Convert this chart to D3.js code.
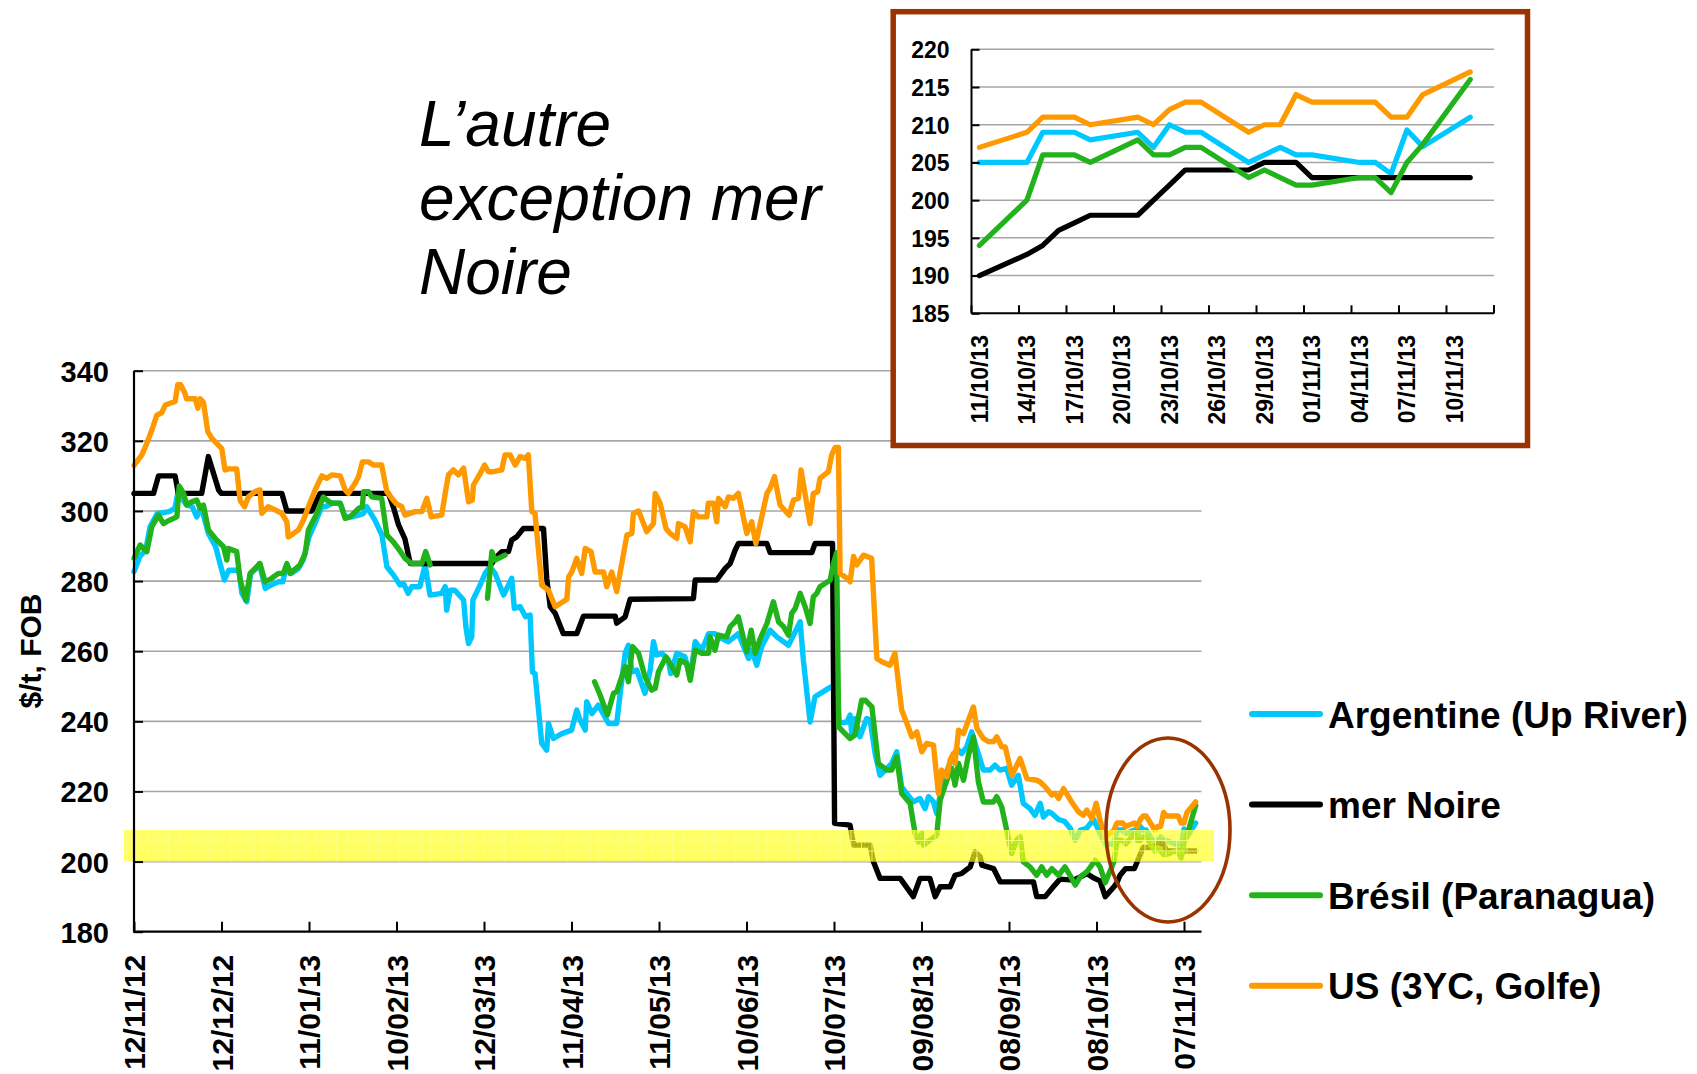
<!DOCTYPE html>
<html><head><meta charset="utf-8">
<script src="https://cdn.jsdelivr.net/npm/d3@7"></script>
<style>
body{margin:0;background:#fff}
svg{display:block}
text{font-family:"Liberation Sans",Arial,Helvetica,sans-serif}
</style>
</head><body>
<svg id="chart" width="1697" height="1074"></svg>
<script>
// ---------------- DATA ----------------
const startDate = "12/11/12";   // day 0 of the main chart
const endDate = "13/11/13";
const mainTickLabels = ["12/11/12","12/12/12","11/01/13","10/02/13","12/03/13","11/04/13","11/05/13","10/06/13","10/07/13","09/08/13","08/09/13","08/10/13","07/11/13"];
const mainYTicks = [180,200,220,240,260,280,300,320,340];
const seriesNames = ["Argentine (Up River)","mer Noire","Brésil (Paranagua)","US (3YC, Golfe)"];
const seriesColors = ["#00c8ff","#000000","#22b21c","#ff9900"];
const bandRange = [200, 209];

// [days since startDate, $/t]
const argentine = [[0,282.7],[2,287],[4,288.8],[5.5,295.5],[8,299.3],[10,299.5],[12,299.8],[14,300.7],[15,305],[18,301.7],[20,301.2],[21.5,298.3],[23,301.2],[25.5,293.6],[28,289.8],[29.5,285],[31,280.3],[32.5,283.1],[35,283.1],[36,282.7],[37,276.5],[38.7,274.1],[40,282.2],[42,283.6],[43,285],[45,277.9],[47,278.9],[49.5,279.8],[51,279.8],[52.4,284.6],[54,282.2],[56.4,283.6],[58,286],[60,292.6],[62,296.4],[64.4,301.2],[65.5,301.2],[68,302.2],[70.7,302.2],[72.4,298.3],[74.7,298.3],[77,298.8],[78.7,299.3],[79.8,301.2],[82.6,297.4],[85,293.1],[86.7,284.1],[89,281.7],[91.2,278.9],[92.4,279.3],[94,276.5],[95.2,278.4],[98,278.4],[99.8,284.6],[101.5,276],[105.5,276.5],[106.7,278.4],[107.2,271.7],[108.4,277.4],[110,277.4],[113,274.6],[113.8,266.9],[114.7,262.2],[115.8,264.1],[116.2,274.6],[118.7,278.9],[120.4,282.2],[122,284.1],[123.8,282.2],[126.7,276],[129.5,280.8],[130.4,272.2],[132.4,272.7],[134.3,269.8],[135.8,270.3],[136.6,254.1],[137.5,253.6],[139.8,233.7],[141.5,231.8],[142.1,239.4],[143.8,235.1],[146.7,236.5],[150,237.5],[151.8,243.2],[153,240.3],[154.7,237.5],[155.2,245.6],[157,242.2],[159.2,244.6],[162.7,239.4],[165.5,239.4],[166.7,248],[168.4,259.4],[169.5,261.7],[170.7,254.1],[172.4,254.6],[175.2,248],[177,254.6],[178.1,262.7],[179.2,258.9],[181,259.4],[183.2,257.5],[184,253.6],[186.1,259.4],[188.9,258.4],[190.7,252.2],[192.4,262.7],[194.7,260.3],[197,265],[199.2,265],[200.4,264.1],[203.8,262.7],[207.2,265],[210.7,257.9],[211.8,260.3],[213.5,256],[215.2,261.3],[218.1,266],[220.4,264.1],[224.4,261.7],[228.4,268.4],[229.5,257.4],[231.8,239.8],[233.5,247],[238.1,249.4],[239.2,249.9],[241,250.3],[241.8,239.5],[244.4,239.8],[245.5,241.8],[246.1,236.5],[247.2,240.8],[248.9,235.6],[251.2,240.8],[252.4,240.3],[254.1,230.8],[255.8,224.6],[258.1,226.6],[259.8,228],[261.5,231.3],[263.2,221.3],[264.9,219.4],[267.2,217],[269.5,218],[271.2,215.1],[272.4,218.5],[274.1,217],[275.2,213.7],[276.9,221.3],[279.2,227],[280.9,229.9],[282.1,232.3],[283.8,230.8],[285.5,232.7],[287.2,237],[288.9,232.3],[291.2,226.1],[293.5,226.1],[295.2,227.5],[296.9,226.1],[299.2,226.6],[300.9,221.8],[303.2,224.6],[304.9,216.6],[307.2,215.1],[308.9,213.2],[310.7,216.6],[311.8,212.7],[313.5,214.2],[314.7,213.7],[317,212],[319,211.5],[321,209.5],[322.7,206.1],[324.5,209],[326.6,209.5],[329,212],[331,208.5],[333,205],[336,205],[337,209],[338,209],[339,209],[340,208],[343,209],[344,207],[345,210],[346,209],[347,209],[350,205],[351,206],[352,207],[353,206],[354,206],[357,205],[358,205],[359,203.5],[360,209.3],[361,207.1],[364,211]];

const merNoire = [[0,305],[6.7,305],[8.4,310],[14.1,310],[15.2,305],[23.2,305],[25.5,315.5],[29,306],[30,305],[50.7,305],[52.4,300],[61,300],[63.8,305],[87.2,305],[88.9,301.2],[90.7,296],[92.9,292],[94.7,285],[122.7,285],[123.8,286.5],[126.1,288.4],[128.4,288.4],[129.5,291.7],[131.2,292.6],[133.5,295],[140.4,295],[141.5,280.8],[142.7,272.7],[144.4,270.8],[147.2,265],[151.8,265],[154.1,270],[165,270],[165.5,268],[168.4,269.8],[170.1,274.8],[191.8,275],[192.4,280.3],[199.8,280.3],[202.7,283.6],[204.4,285],[206.1,288.8],[207.2,290.7],[217,290.7],[218.1,288.1],[232.4,288.1],[233.5,290.7],[239.5,290.7],[240.2,210.9],[245.5,210.4],[246.7,204.7],[252.4,204.7],[253.5,200],[255.8,195.2],[262.7,195.2],[267.2,190],[269.5,195.2],[272.9,195.2],[274.7,190],[276.4,192.8],[279.8,192.8],[281.5,196.1],[283.8,196.6],[286.7,198.5],[288.4,202.8],[290.1,201.4],[290.7,199],[294.7,198],[297,194.2],[308.4,194.2],[309.5,190],[312.4,190],[315.2,192.8],[317.5,195],[322.1,194.7],[324.4,195.6],[326.7,196.6],[328.9,195.4],[331.2,194.5],[333,190],[336,192.8],[337,194],[338,196],[339,197],[340,198],[343,198],[344,200],[345,202],[346,204],[347,204],[350,204],[351,205],[352,205],[353,205],[354,203],[357,203],[358,203],[359,203],[360,203],[361,203],[364,203]];

const bresil = [[0,286.5],[2.1,290.3],[4.4,288.4],[6.1,295.5],[8.4,298.8],[10.1,296.4],[11.8,297.2],[14.7,298.3],[15.5,307.1],[17,305],[18.1,301.7],[19.8,302.6],[21.5,303.1],[22.7,300.7],[23.8,301.7],[25.5,294.6],[27.8,292.2],[30.7,289.8],[31.8,286],[32.4,289.3],[35.2,288.4],[36.4,280.3],[38.3,274.6],[39.8,282.2],[42.1,284.1],[43.2,285],[44.9,279.8],[47.2,280.8],[49.5,282.2],[51.2,282.2],[52.4,285],[53.5,282.2],[56.9,284.6],[58.7,287.9],[59.8,294.6],[62.7,299.3],[64.9,304],[66.1,303.1],[67.8,302.2],[70.7,302.2],[72.4,297.9],[74.1,298.3],[77,300.7],[78.3,301.2],[78.7,305.5],[80.4,305.5],[81.5,304],[84.9,303.6],[86.7,293.1],[88.9,291.2],[91.2,288.6],[92.9,286.5],[95.2,285],[98.7,285],[100,288.4],[101.5,284.6],[110,null],
  [121.2,275.1],[122.7,288.4],[123.8,286],[127.2,287.4],[140,null],
  [157.9,251.3],[159.8,247.5],[162.3,241.8],[164.4,248],[165.5,248.4],[168.4,255.6],[169.5,251.3],[170.9,261.3],[173,259.4],[175.2,252.7],[177.5,248.9],[178.7,249.4],[179.8,254.1],[182.4,258.4],[184.4,255.6],[186.1,253.2],[187.2,257.4],[189.5,256.5],[190.7,251.7],[192.4,260.3],[194.7,259.4],[197,259.4],[197.5,264.1],[199.2,260.3],[200.4,264.6],[203.2,264.1],[204.4,267],[206.1,268.4],[207.2,269.8],[210.1,259.8],[211.6,266],[213,259.4],[214.7,263.6],[217,267.9],[219.2,274.1],[221,268.4],[222.7,267],[224.4,264.6],[225.5,270.8],[226.7,272.2],[228.4,276.5],[230.1,272.7],[231.8,267.9],[232.9,275.5],[234.1,276.5],[235.2,278.4],[236.9,279.3],[238.7,280.3],[239.8,285],[240.9,288.1],[241.6,238.4],[243.8,236.5],[245.5,235.1],[247.2,236.1],[249.5,246],[250.7,246],[253,244.1],[255.2,228],[258.1,226.1],[259.8,226.1],[261.5,229.9],[263.2,219.4],[266.1,216.6],[267.8,208],[268.9,205.6],[270.1,208],[270.7,204.7],[272.9,206.1],[275.2,207.5],[276.4,217.5],[278.7,223.2],[280.4,226.6],[281.5,221.8],[282.7,228],[284.4,223.2],[286.1,230.4],[287.8,235.6],[289.5,222.7],[291.2,217],[294.7,217],[295.8,218.5],[297.5,215.6],[299.2,209],[300.9,202.3],[302.6,206.1],[303.8,207.1],[304.9,199.9],[307.2,198.5],[309.5,196.1],[311.2,198.5],[312.9,196.1],[314.7,198],[317,196.1],[319.2,198.5],[321.5,195.2],[322.7,193.3],[324.4,195.6],[326.7,197.1],[328.4,199],[329.5,200.4],[331.2,198.5],[333,194],[336,200],[337,206],[338,206],[339,206],[340,205],[343,208],[344,206],[345,206],[346,207],[347,207],[350,203],[351,204],[352,203],[353,202],[354,202],[357,203],[358,203],[359,201],[360,205],[361,207.4],[364,216]];

const usGolfe = [[0,313],[2.7,316],[4.4,319.3],[6.1,323],[7.8,327.3],[9.5,328],[10.7,330.2],[14.1,331.2],[15,336],[16,336],[17.5,333.5],[18,332],[21,332],[21.9,329.3],[22.7,332],[23.8,331],[25.3,322.6],[26.7,320.7],[30.1,317.8],[31.2,311.7],[32.4,312],[35.2,312],[36.4,303],[37.9,301.2],[39.2,304],[41.5,305.5],[43.2,306],[43.8,299.3],[46,301.2],[48.4,300.3],[50.7,299.3],[52.4,296.9],[52.9,292.6],[54.7,293.6],[56.4,294.6],[58.1,297.4],[59.8,301.2],[62.1,306],[64.4,310],[66.1,309.3],[67.8,310.3],[70.7,310],[72.4,306],[73.5,305],[75.8,307.9],[77,309.8],[78.3,314],[80.4,314],[82.1,313.1],[84.9,313.1],[86.7,305.5],[88.4,303.6],[90,302],[91.8,301.2],[92.9,298.8],[94.7,299.3],[96.4,299.8],[98.7,299.8],[100.4,303.6],[101.9,298.3],[105.5,298.8],[106.7,305],[107.8,310.3],[109.5,311.7],[111.2,310.3],[113,312.2],[114.7,302.6],[116,303.1],[116.4,307.4],[118.7,310.7],[120.2,313.1],[121.5,311.2],[123.2,311.2],[126.1,311.7],[127.2,316],[128.9,316],[130.7,313.1],[132.4,315.5],[134.1,315],[135.2,316],[136.4,299.8],[137.5,299.3],[139.8,278.8],[142.1,277.4],[144.4,272.7],[148.4,274.8],[149,281.2],[150.1,282.6],[151.8,286.5],[153.5,282.2],[154.7,289.3],[156.7,288.4],[158.1,282.6],[161,282.6],[162.1,278.4],[163.8,282.6],[165.5,277],[169,293.1],[170.7,293.6],[171.2,299.3],[173,300],[175.8,294.1],[178.1,296.4],[178.7,305],[180.4,302.2],[182.4,295],[183.8,293.6],[186.1,292.2],[186.7,296.4],[188.9,295.5],[190.7,291.2],[191.8,299.8],[193.5,298.3],[196.4,298.3],[196.9,302.2],[198.7,302.2],[199.8,296.9],[200.4,303.6],[202.7,301.2],[203.8,304],[205.5,303.6],[207.2,305],[210.1,293.6],[211.8,296.9],[213.2,290.7],[217,305],[218.1,306.5],[219.6,309.8],[221.5,301.7],[224.6,298.8],[226.1,303.1],[227.8,303.6],[228.7,311.7],[231.8,296.4],[232.9,305],[234.4,305.5],[235.2,309.3],[238.1,311.2],[239.2,316],[240.4,318.1],[241.5,318.1],[242.1,282.2],[244.4,280.8],[245.5,279.8],[246.7,287],[247.8,284.6],[250.1,287.4],[252.9,286.5],[254.7,257.9],[256.4,257],[259.2,256],[260.9,259.4],[263.2,243.2],[265,239.4],[266.7,235.6],[268.4,237],[270.1,231.3],[271.8,233.7],[274.1,233.2],[275.8,219.4],[276.9,226.1],[278.7,224.2],[279.8,228.9],[280.9,230.8],[281.5,228],[282.7,237.5],[284.4,236.5],[286.1,240.3],[287.8,244.1],[289,238],[291.2,235.1],[293,234.2],[294.7,234.2],[295.8,235.6],[297.5,232.7],[298.7,232.7],[301,224.6],[303.8,229.4],[306.1,223.7],[309.5,223.2],[310.7,222.7],[312.4,221.3],[314.7,219],[315.8,219.4],[317,218],[318.7,220.8],[321.5,217],[323.8,214.2],[325.5,213.2],[326.7,214.7],[328.4,212.3],[329.9,216.6],[331.2,211.8],[333,207],[336,209],[337,211],[338,211],[339,211],[340,210],[343,211],[344,210],[345,212],[346,213],[347,213],[350,209],[351,210],[352,210],[353,214],[354,213],[357,213],[358,213],[359,211],[360,211],[361,214],[364,217]];

// Inset (11/10/13 - 12/11/13)
const insetFirstDay = "11/10/13";
const insetLastDay = "12/11/13";
const insetTickLabels = ["11/10/13","14/10/13","17/10/13","20/10/13","23/10/13","26/10/13","29/10/13","01/11/13","04/11/13","07/11/13","10/11/13"];
const insetYTicks = [185,190,195,200,205,210,215,220];
const insetDates = ["11/10/13","14/10/13","15/10/13","16/10/13","17/10/13","18/10/13","21/10/13","22/10/13","23/10/13","24/10/13","25/10/13","28/10/13","29/10/13","30/10/13","31/10/13","01/11/13","04/11/13","05/11/13","06/11/13","07/11/13","08/11/13","11/11/13"];
const insetArgentine = [205,205,209,209,209,208,209,207,210,209,209,205,206,207,206,206,205,205,203.5,209.3,207.1,211];
const insetMerNoire  = [190,192.8,194,196,197,198,198,200,202,204,204,204,205,205,205,203,203,203,203,203,203,203];
const insetBresil    = [194,200,206,206,206,205,208,206,206,207,207,203,204,203,202,202,203,203,201,205,207.4,216];
const insetUS        = [207,209,211,211,211,210,211,210,212,213,213,209,210,210,214,213,213,213,211,211,214,217];

// ---------------- DRAWING ----------------
const parse = d3.timeParse("%d/%m/%y");
const fmt = d3.timeFormat("%d/%m/%y");
const svg = d3.select("#chart");
const FONT = '"Liberation Sans",Arial,sans-serif';
const t0 = parse(startDate);
const dayToDate = d => new Date(t0.getTime() + d * 864e5);

// Main chart
const x = d3.scaleTime().domain([t0, parse(endDate)]).range([134, 1201.5]);
const y = d3.scaleLinear().domain([180, 340]).range([931.7, 370.7]);

// gridlines
svg.append("g").selectAll("line").data(mainYTicks.filter(v => v > 180)).join("line")
  .attr("x1", x.range()[0]).attr("x2", x.range()[1])
  .attr("y1", d => y(d)).attr("y2", d => y(d))
  .attr("stroke", "#a6a6a6").attr("stroke-width", 1.6);

// series
const mainSeries = [argentine, merNoire, bresil, usGolfe];
const line = d3.line().defined(d => d[1] !== null)
  .x(d => x(dayToDate(d[0]))).y(d => y(d[1]));
mainSeries.forEach((s, i) => {
  svg.append("path").datum(s).attr("d", line).attr("fill", "none")
    .attr("stroke", seriesColors[i]).attr("stroke-width", 5.4)
    .attr("stroke-linejoin", "round").attr("stroke-linecap", "round");
});

// yellow band
const defs = svg.append("defs");
const pat = defs.append("pattern").attr("id", "bandPat").attr("patternUnits", "userSpaceOnUse")
  .attr("width", 10.5).attr("height", 10.5);
pat.append("rect").attr("width", 10.5).attr("height", 10.5).attr("fill", "#ffff10").attr("fill-opacity", 0.68);
pat.append("path").attr("d", "M0,0.5H10.5M0.5,0V10.5").attr("stroke", "#ffff90").attr("stroke-width", 1).attr("stroke-opacity", 0.8);
pat.append("path").attr("d", "M3,3h1M7,7h1M3,7h1M7,3h1").attr("stroke", "#ffffc0").attr("stroke-width", 1).attr("stroke-opacity", 0.7);
svg.append("rect").attr("x", 124).attr("width", 1214 - 124)
  .attr("y", y(bandRange[1])).attr("height", y(bandRange[0]) - y(bandRange[1]))
  .attr("fill", "url(#bandPat)");

// axes
const yAxis = d3.axisLeft(y).tickValues(mainYTicks).tickSize(-9).tickPadding(25).tickFormat(d3.format("d"));
const gy = svg.append("g").attr("transform", `translate(${x.range()[0]},0)`).call(yAxis);
gy.select(".domain").attr("stroke", "#000").attr("stroke-width", 2.2).attr("d", `M0,${y(340)}V${y(180)}`);
gy.selectAll(".tick line").attr("stroke", "#000").attr("stroke-width", 2);
gy.selectAll(".tick text").attr("font-family", FONT).attr("font-size", 29).attr("font-weight", "bold").attr("fill", "#000").attr("dy", "0.36em");

const xTickDates = mainTickLabels.map(parse);
const xAxis = d3.axisBottom(x).tickValues(xTickDates).tickSize(-10).tickFormat(fmt);
const gx = svg.append("g").attr("transform", `translate(0,${y(180)})`).call(xAxis);
gx.select(".domain").attr("stroke", "#000").attr("stroke-width", 2.2).attr("d", `M${x.range()[0] - 1},0H${x.range()[1]}`);
gx.selectAll(".tick line").attr("stroke", "#000").attr("stroke-width", 2);
gx.selectAll(".tick text").attr("font-family", FONT).attr("font-size", 30).attr("font-weight", "bold").attr("fill", "#000")
  .attr("text-anchor", "end").attr("transform", "translate(0,23) rotate(-90)").attr("x", 0).attr("y", 0).attr("dy", "0.36em");

// y title
svg.append("text").attr("transform", "translate(30,651) rotate(-90)").attr("text-anchor", "middle").attr("dy", "0.36em")
  .attr("font-family", FONT).attr("font-size", 30).attr("font-weight", "bold").text("$/t, FOB");

// ellipse
svg.append("ellipse").attr("cx", 1168).attr("cy", 830).attr("rx", 62).attr("ry", 92)
  .attr("fill", "none").attr("stroke", "#993300").attr("stroke-width", 3.6);

// title
const titleLines = ["L\u2019autre", "exception mer", "Noire"];
svg.append("text").attr("font-family", FONT).attr("font-style", "italic").attr("font-size", 64)
  .selectAll("tspan").data(titleLines).join("tspan")
  .attr("x", 419).attr("y", (d, i) => 146 + i * 74).text(d => d);

// legend
seriesNames.forEach((n, i) => {
  const ly = 714 + i * 90.6;
  svg.append("line").attr("x1", 1252).attr("x2", 1320).attr("y1", ly).attr("y2", ly)
    .attr("stroke", seriesColors[i]).attr("stroke-width", 6).attr("stroke-linecap", "round");
  svg.append("text").attr("x", 1328).attr("y", ly + 13.5).attr("font-family", FONT)
    .attr("font-size", 37).attr("font-weight", "bold").text(n);
});

// ---------------- INSET ----------------
svg.append("rect").attr("x", 893.2).attr("y", 11.7).attr("width", 634.3).attr("height", 433.8)
  .attr("fill", "#fff").attr("stroke", "#993300").attr("stroke-width", 5.5);

const insetDays = d3.timeDay.range(parse(insetFirstDay), d3.timeDay.offset(parse(insetLastDay), 1)).map(fmt);
const ix = d3.scaleBand().domain(insetDays).range([971.5, 1494]).padding(0);
const iy = d3.scaleLinear().domain([185, 220]).range([313.3, 49.3]);

svg.append("g").selectAll("line").data(insetYTicks.filter(v => v > 185)).join("line")
  .attr("x1", 971.5).attr("x2", 1494).attr("y1", d => iy(d)).attr("y2", d => iy(d))
  .attr("stroke", "#a6a6a6").attr("stroke-width", 1.5);

const insetSeries = [insetArgentine, insetMerNoire, insetBresil, insetUS];
const iline = d3.line().x((d, i) => ix(insetDates[i]) + ix.bandwidth() / 2).y(d => iy(d));
insetSeries.forEach((s, i) => {
  svg.append("path").datum(s).attr("d", iline).attr("fill", "none")
    .attr("stroke", seriesColors[i]).attr("stroke-width", 5.2)
    .attr("stroke-linejoin", "round").attr("stroke-linecap", "round");
});

const iyAxis = d3.axisLeft(iy).tickValues(insetYTicks).tickSize(-8).tickPadding(22).tickFormat(d3.format("d"));
const giy = svg.append("g").attr("transform", "translate(971.5,0)").call(iyAxis);
giy.select(".domain").attr("stroke", "#000").attr("stroke-width", 2).attr("d", `M0,${iy(220)}V${iy(185)}`);
giy.selectAll(".tick line").attr("stroke", "#000").attr("stroke-width", 2);
giy.selectAll(".tick text").attr("font-family", FONT).attr("font-size", 23).attr("font-weight", "bold").attr("dy", "0.36em");

// inset x axis: ticks at category boundaries every 3 days, labels at category centres
const tickBounds = d3.range(0, insetDays.length + 1, 3).concat([insetDays.length]);
const gix = svg.append("g");
gix.append("path").attr("d", `M971.5,${iy(185)}H1494`).attr("stroke", "#000").attr("stroke-width", 2);
gix.selectAll("line").data(tickBounds).join("line")
  .attr("x1", k => 971.5 + k * ix.step()).attr("x2", k => 971.5 + k * ix.step())
  .attr("y1", iy(185)).attr("y2", iy(185) - 8).attr("stroke", "#000").attr("stroke-width", 2);
gix.selectAll("text").data(insetTickLabels).join("text")
  .attr("transform", d => `translate(${ix(d) + ix.bandwidth() / 2},335) rotate(-90)`)
  .attr("text-anchor", "end").attr("dy", "0.36em")
  .attr("font-family", FONT).attr("font-size", 23).attr("font-weight", "bold").text(d => d);
</script>
</body></html>
